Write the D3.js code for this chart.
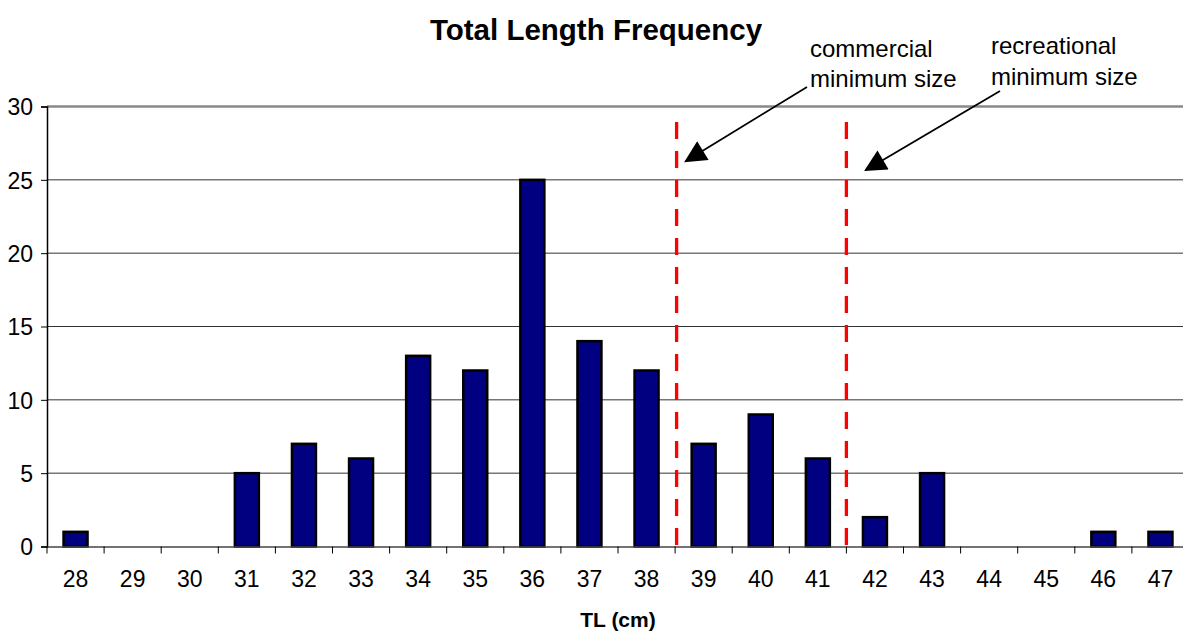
<!DOCTYPE html>
<html><head><meta charset="utf-8">
<script src="https://cdn.jsdelivr.net/npm/d3@7"></script>
<style>body{margin:0;background:#fff}svg{display:block;font-family:"Liberation Sans",Arial,sans-serif}</style>
</head><body><svg id="c" width="1183" height="633"></svg>
<script>
const categories = ["28","29","30","31","32","33","34","35","36","37","38","39","40","41","42","43","44","45","46","47"];
const frequency = [1,0,0,5,7,6,13,12,25,14,12,7,9,6,2,5,0,0,1,1];
const yTicks = [0,5,10,15,20,25,30];
const minSizes = [{after:"38", lines:["commercial","minimum size"]},{after:"41", lines:["recreational","minimum size"]}];

const svg = d3.select("#c");
const L = 47, R = 1189, T = 106.5, B = 546.5;
const x = d3.scaleBand().domain(categories).range([L, R]).padding(0);
const y = d3.scaleLinear().domain([0, 30]).range([B, T]);
const FF = "Liberation Sans, Arial, sans-serif";

// gridlines
svg.append("g").selectAll("line").data(yTicks.filter(d => d > 0)).join("line")
  .attr("x1", L).attr("x2", R).attr("y1", d => y(d)).attr("y2", d => y(d))
  .attr("stroke", d => d === 30 ? "#888" : "#333").attr("stroke-width", d => d === 30 ? 2.5 : 1);

// bars
const bw = x.bandwidth() * 0.42;
svg.append("g").selectAll("rect").data(categories.map((c, i) => ({c, v: frequency[i]})).filter(d => d.v > 0)).join("rect")
  .attr("x", d => x(d.c) + x.bandwidth() / 2 - bw / 2)
  .attr("width", bw)
  .attr("y", d => y(d.v))
  .attr("height", d => y(0) - y(d.v))
  .attr("fill", "#000080").attr("stroke", "#000").attr("stroke-width", 2.5);

// axes
const yAxis = svg.append("g").attr("transform", `translate(${L},0)`)
  .call(d3.axisLeft(y).tickValues(yTicks).tickSize(6).tickPadding(8));
yAxis.select(".domain").attr("stroke", "#000").attr("stroke-width", 1.5);
yAxis.selectAll(".tick line").attr("stroke", "#000");
yAxis.selectAll("text").attr("font-size", 23).attr("fill", "#000").attr("font-family", FF).attr("dy", "0.36em");

const xAxis = svg.append("g").attr("transform", `translate(0,${B})`)
  .call(d3.axisBottom(x).tickSize(0).tickPadding(24));
xAxis.select(".domain").attr("stroke", "#444").attr("stroke-width", 1.5);
xAxis.selectAll("text").attr("font-size", 23).attr("fill", "#000").attr("font-family", FF)
  .attr("y", 0).attr("dy", 0).attr("transform", "translate(0,40.5)");
// boundary ticks
svg.append("g").selectAll("line").data(categories).join("line")
  .attr("x1", d => x(d)).attr("x2", d => x(d)).attr("y1", B).attr("y2", B + 7)
  .attr("stroke", "#000");

// minimum size lines
const arrowPts = [{x1: 807, y1: 87, x2: 686, y2: 161}, {x1: 1000, y1: 91, x2: 866, y2: 170}];
const textPos = [{x: 810, y: [56.5, 86.5]}, {x: 991, y: [53.5, 85]}];
svg.append("defs").append("marker").attr("id", "ah").attr("viewBox", "0 0 10 10")
  .attr("refX", 9).attr("refY", 5).attr("markerWidth", 26).attr("markerHeight", 22)
  .attr("markerUnits", "userSpaceOnUse").attr("orient", "auto")
  .append("path").attr("d", "M0,0 L10,5 L0,10 Z").attr("fill", "#000");

minSizes.forEach((m, i) => {
  const xp = x(m.after) + x.bandwidth() + (i === 0 ? 1.5 : 0);
  svg.append("line").attr("x1", xp).attr("x2", xp).attr("y1", 122).attr("y2", B)
    .attr("stroke", "#ff0000").attr("stroke-width", 3.3).attr("stroke-dasharray", "17,12");
  const a = arrowPts[i];
  svg.append("line").attr("x1", a.x1).attr("y1", a.y1).attr("x2", a.x2).attr("y2", a.y2)
    .attr("stroke", "#000").attr("stroke-width", 1.8).attr("marker-end", "url(#ah)");
  m.lines.forEach((ln, j) => svg.append("text").attr("x", textPos[i].x).attr("y", textPos[i].y[j])
    .attr("font-size", 24).attr("fill", "#000").text(ln));
});

// titles
svg.append("text").attr("x", 596).attr("y", 40).attr("text-anchor", "middle")
  .attr("font-size", 29.5).attr("font-weight", "bold").text("Total Length Frequency");
svg.append("text").attr("x", 618).attr("y", 627).attr("text-anchor", "middle")
  .attr("font-size", 21).attr("font-weight", "bold").text("TL (cm)");
</script></body></html>
